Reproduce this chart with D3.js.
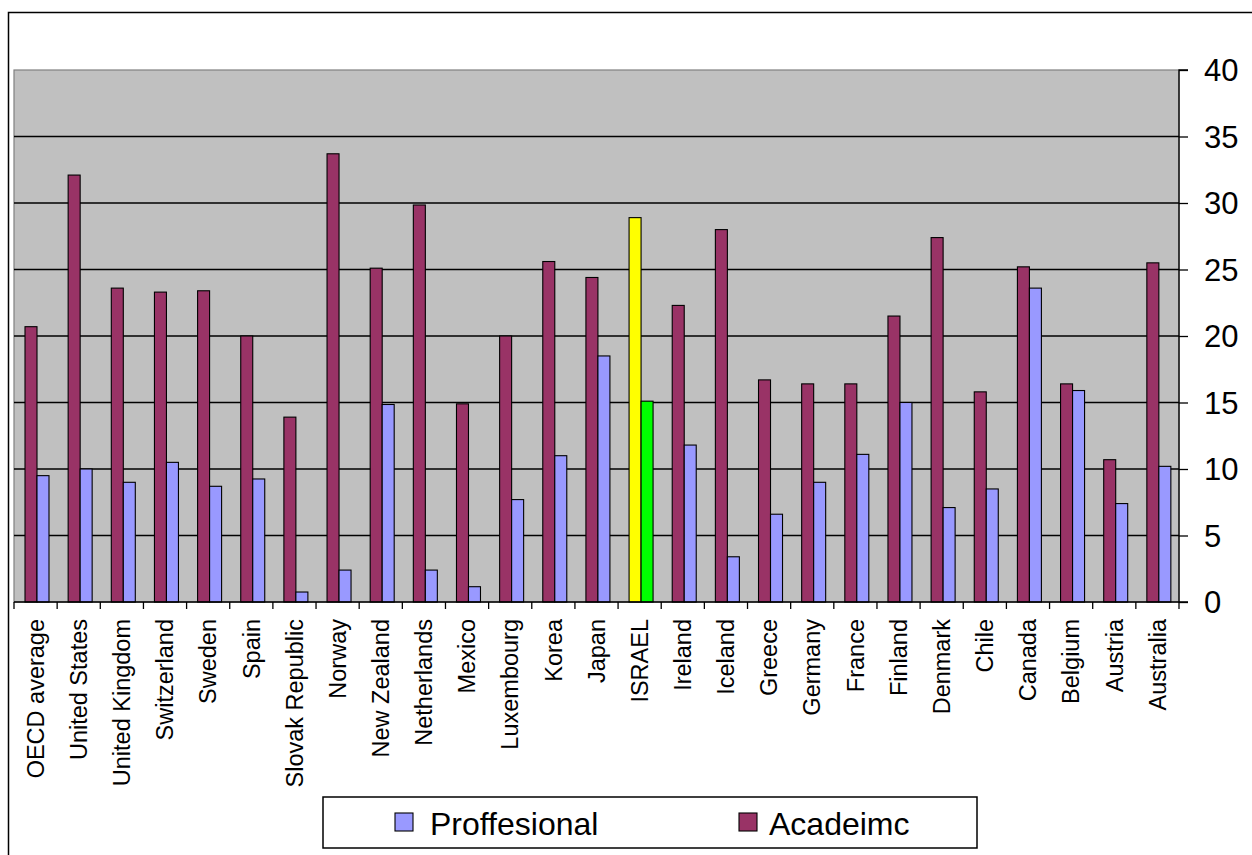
<!DOCTYPE html>
<html>
<head>
<meta charset="utf-8">
<script src="https://cdn.jsdelivr.net/npm/d3@7"></script>
<style>
  html, body { margin: 0; padding: 0; background: #fff; }
  svg { display: block; font-family: "Liberation Sans", Arial, sans-serif; }
</style>
</head>
<body>
<svg id="chart" width="1252" height="855"></svg>
<script>
const categories = ["OECD average","United States","United Kingdom","Switzerland","Sweden","Spain","Slovak Republic","Norway","New Zealand","Netherlands","Mexico","Luxembourg","Korea","Japan","ISRAEL","Ireland","Iceland","Greece","Germany","France","Finland","Denmark","Chile","Canada","Belgium","Austria","Australia"];
const academic = [20.7,32.1,23.6,23.3,23.4,20.0,13.9,33.7,25.1,29.85,14.9,20.0,25.6,24.4,28.9,22.3,28.0,16.7,16.4,16.4,21.5,27.4,15.8,25.2,16.4,10.7,25.5];
const professional = [9.5,10.0,9.0,10.5,8.7,9.25,0.75,2.4,14.85,2.4,1.15,7.7,11.0,18.5,15.1,11.8,3.4,6.6,9.0,11.1,15.0,7.1,8.5,23.6,15.9,7.4,10.2];
const seriesNames = ["Acadeimc","Proffesional"];
const yTicks = [0,5,10,15,20,25,30,35,40];
const highlight = "ISRAEL";

const colors = { "Acadeimc": "#993366", "Proffesional": "#9999FF" };
const highlightColors = { "Acadeimc": "#FFFF00", "Proffesional": "#00FF00" };

const svg = d3.select("#chart");
const plot = { left: 14, right: 1179, top: 70, bottom: 602 };

// outer chart border
svg.append("rect").attr("x", 8.5).attr("y", 12.5).attr("width", 1262).attr("height", 870)
  .attr("fill", "#fff").attr("stroke", "#000").attr("stroke-width", 1.5);

const x = d3.scaleBand().domain(categories).range([plot.left, plot.right]).padding(0);
const xs = d3.scaleBand().domain(seriesNames).range([11, 35]).padding(0);
const y = d3.scaleLinear().domain([0, 40]).range([plot.bottom, plot.top]);

// plot area
svg.append("rect").attr("x", plot.left).attr("y", plot.top)
  .attr("width", plot.right - plot.left).attr("height", plot.bottom - plot.top)
  .attr("fill", "#C0C0C0").attr("stroke", "#808080").attr("stroke-width", 1.2);

// gridlines
svg.append("g").selectAll("line").data(yTicks.filter(t => t > 0 && t < 40)).join("line")
  .attr("x1", plot.left).attr("x2", plot.right)
  .attr("y1", d => y(d)).attr("y2", d => y(d))
  .attr("stroke", "#000").attr("stroke-width", 1.3);

// bars
const data = categories.map((c, i) => ({ c, vals: [
  { s: "Acadeimc", v: academic[i] }, { s: "Proffesional", v: professional[i] } ] }));
const groups = svg.append("g").selectAll("g").data(data).join("g")
  .attr("transform", d => `translate(${x(d.c)},0)`);
groups.selectAll("rect").data(d => d.vals.map(v => ({ ...v, c: d.c }))).join("rect")
  .attr("x", d => xs(d.s)).attr("width", xs.bandwidth())
  .attr("y", d => y(d.v)).attr("height", d => y(0) - y(d.v))
  .attr("fill", d => d.c === highlight ? highlightColors[d.s] : colors[d.s])
  .attr("stroke", "#000").attr("stroke-width", 1.1);

// right y axis
const yAxis = d3.axisRight(y).tickValues(yTicks).tickSize(9).tickPadding(16).tickFormat(d3.format("d"));
const ya = svg.append("g").attr("transform", `translate(${plot.right},0)`).call(yAxis);
ya.select(".domain").attr("stroke", "#000").attr("stroke-width", 1.3).attr("d", `M9,${plot.top}H0V${plot.bottom}H9`);
ya.selectAll(".tick line").attr("stroke", "#000").attr("stroke-width", 1.3);
ya.selectAll(".tick text").attr("font-size", 31).attr("fill", "#000")
  .attr("font-family", "'Liberation Sans', Arial, sans-serif").attr("dy", "0.34em");

// x axis baseline and ticks at category boundaries
svg.append("line").attr("x1", plot.left).attr("x2", plot.right)
  .attr("y1", plot.bottom).attr("y2", plot.bottom).attr("stroke", "#000").attr("stroke-width", 1.5);
const bounds = categories.map(c => x(c)).concat([plot.right]);
svg.append("g").selectAll("line").data(bounds).join("line")
  .attr("x1", d => d).attr("x2", d => d)
  .attr("y1", plot.bottom).attr("y2", plot.bottom + 7)
  .attr("stroke", "#000").attr("stroke-width", 1.3);

// x labels
svg.append("g").selectAll("text").data(categories).join("text")
  .attr("transform", d => `translate(${x(d) + x.bandwidth() / 2},619) rotate(-90)`)
  .attr("text-anchor", "end").attr("dy", "0.35em")
  .attr("font-size", 23.5).attr("fill", "#000")
  .text(d => d);

// legend
const lg = svg.append("g");
lg.append("rect").attr("x", 323).attr("y", 797).attr("width", 654).attr("height", 51)
  .attr("fill", "#fff").attr("stroke", "#000").attr("stroke-width", 1.5);
const legendItems = [
  { s: "Proffesional", sx: 395, tx: 430 },
  { s: "Acadeimc", sx: 739, tx: 769 }
];
legendItems.forEach(it => {
  lg.append("rect").attr("x", it.sx).attr("y", 813).attr("width", 18).attr("height", 18)
    .attr("fill", colors[it.s]).attr("stroke", "#000").attr("stroke-width", 1.1);
  lg.append("text").attr("x", it.tx).attr("y", 823).attr("dy", "0.36em")
    .attr("font-size", 32).attr("fill", "#000").text(it.s);
});
</script>
</body>
</html>
